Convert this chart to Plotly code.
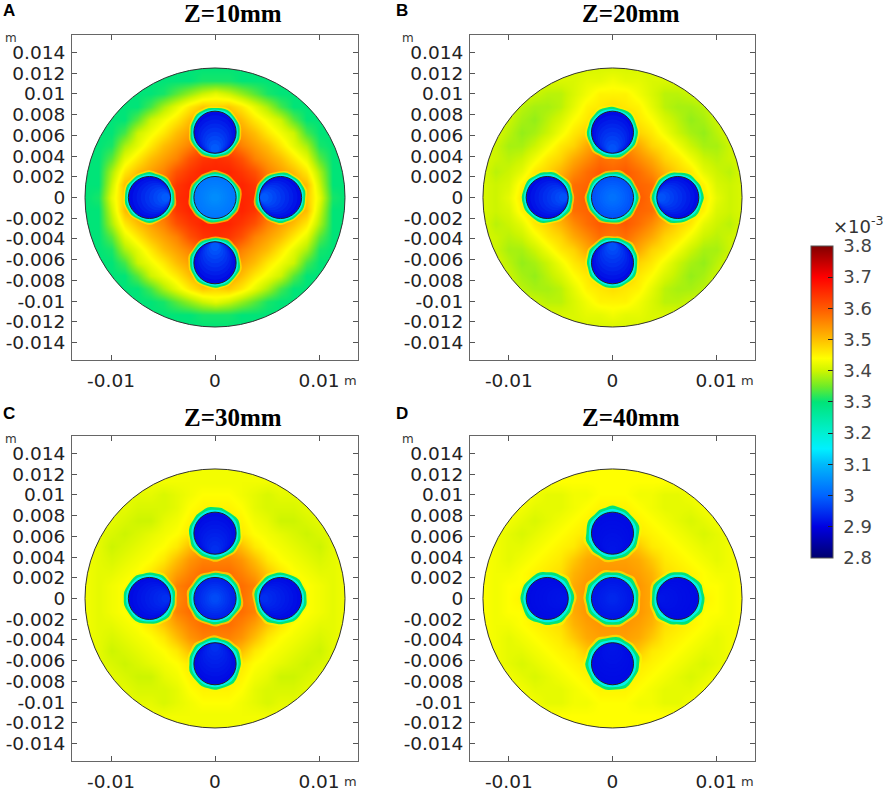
import math
import plotly.graph_objects as go

# Field values (x 1e-5), upper-right quadrant, rows from y=+12.5mm down to y=0, columns x=0..12.5mm, step 1.25mm
FIELD_A = [
 [330,330,330,330,330,330,330,330,330,330,330],
 [331,331,330,330,330,330,330,330,330,330,330],
 [342,340,337,334,331,330,330,330,330,330,330],
 [348,349,346,342,338,333,330,330,330,330,330],
 [353,353,350,346,343,340,334,330,330,330,330],
 [356,356,353,350,346,343,340,333,330,330,330],
 [361,360,356,353,350,346,342,338,331,330,330],
 [365,364,361,356,353,350,346,342,334,330,330],
 [366,366,364,361,356,353,350,346,338,330,330],
 [364,365,366,364,358,355,353,350,340,330,330],
 [363,364,366,365,361,356,354,349,342,331,330],
]
FIELD_B = [
 [341,341,341,341,341,341,341,341,341,341,341],
 [343,342,342,341,341,341,341,341,341,341,341],
 [345,345,343,341,339,339,340,341,341,341,341],
 [347,346,345,342,339,338,338,339,341,341,341],
 [349,349,346,344,341,339,337,338,340,341,341],
 [351,351,348,346,343,340,338,337,339,341,341],
 [355,355,352,348,346,343,340,338,338,340,341],
 [357,358,355,352,348,346,343,340,339,340,341],
 [359,360,358,355,351,348,346,342,340,339,341],
 [357,360,359,358,353,350,348,345,341,340,341],
 [356,358,360,358,354,351,349,346,342,340,341],
]
FIELD_C = [
 [343,343,343,343,343,343,343,343,343,343,343],
 [343,343,343,343,343,343,343,343,343,343,343],
 [344,344,343,342,341,342,342,342,343,343,343],
 [345,345,344,342,341,341,341,342,342,343,343],
 [347,346,345,343,342,340,340,341,342,343,343],
 [350,349,346,344,343,342,341,340,341,342,343],
 [353,353,350,346,344,343,342,341,340,342,343],
 [356,356,354,350,346,344,343,342,341,342,343],
 [358,358,356,353,349,346,344,343,342,342,343],
 [356,358,358,356,350,347,345,344,343,342,343],
 [355,357,358,355,351,348,346,344,343,342,343],
]
FIELD_D = [
 [344,344,344,344,344,344,344,344,344,344,344],
 [344,344,344,344,344,344,344,344,344,344,344],
 [344,344,343,343,342,342,343,344,344,344,344],
 [345,345,344,343,342,342,342,343,344,344,344],
 [346,346,345,344,343,342,341,342,343,344,344],
 [347,347,346,345,344,343,342,341,342,343,344],
 [351,351,349,346,345,344,343,342,342,343,344],
 [353,353,352,349,346,345,344,343,342,343,344],
 [354,354,353,351,347,346,345,344,343,343,344],
 [352,354,354,352,348,346,345,344,344,343,344],
 [350,352,354,352,350,347,346,345,344,343,344],
]
FIELDS = [FIELD_A, FIELD_B, FIELD_C, FIELD_D]
TITLES = ["Z=10mm", "Z=20mm", "Z=30mm", "Z=40mm"]
LETTERS = ["A", "B", "C", "D"]
YTICKS = [0.014,0.012,0.01,0.008,0.006,0.004,0.002,0,-0.002,-0.004,-0.006,-0.008,-0.01,-0.012,-0.014]
YLABELS = ["0.014","0.012","0.01","0.008","0.006","0.004","0.002","0","-0.002","-0.004","-0.006","-0.008","-0.01","-0.012","-0.014"]
XTICKS = [-0.01, 0, 0.01]
XLABELS = ["-0.01", "0", "0.01"]
CB_TICKS = [2.8,2.9,3.0,3.1,3.2,3.3,3.4,3.5,3.6,3.7,3.8]
CB_LABELS = ["2.8","2.9","3","3.1","3.2","3.3","3.4","3.5","3.6","3.7","3.8"]
# cold-channel values: outer rim, inner rim (outer channels) / same for the centre channel
COLD_OUTER = [(2.91, 3.00), (2.91, 2.99), (2.91, 2.95), (2.91, 2.92)]
COLD_CENTER = [(3.02, 3.05), (2.98, 3.02), (2.93, 2.98), (2.92, 2.94)]
RING_WIDTH = [0.00032, 0.00036, 0.0004, 0.00046]
RING_BUMPS = [0.95,1.15,0.9,1.0,1.3,1.0,0.85,1.1,1.0,1.35,0.95,1.1,0.85,1.2,1.05,0.9,1.3,1.0,1.15,0.9,1.25,1.0,0.9,1.15]

SCALE = [(2.8,(0,0,110)),(2.9,(0,0,225)),(3.0,(0,100,255)),(3.1,(0,185,250)),(3.15,(0,240,255)),
         (3.2,(0,240,210)),(3.3,(0,228,120)),(3.35,(110,235,40)),(3.4,(205,245,0)),(3.44,(255,255,0)),
         (3.5,(255,190,0)),(3.6,(255,90,0)),(3.7,(255,0,0)),(3.8,(130,0,0))]

def rgb(c):
    return f"rgb({round(c[0])},{round(c[1])},{round(c[2])})"

def color(v):
    for (a, ca), (b, cb) in zip(SCALE, SCALE[1:]):
        if v <= b:
            t = max(0, (v - a) / (b - a))
            return rgb([ca[i] + (cb[i] - ca[i]) * t for i in range(3)])
    return rgb(SCALE[-1][1])

W, H = 886, 792
BOXES = [(72, 358, 35, 362), (470, 755, 35, 362), (72, 358, 438, 765), (470, 755, 438, 765)]
X_RANGE = [-0.01375, 0.01375]
Y_RANGE = [-0.0157, 0.0157]
R_DISK = 0.0125
R_COLD = 0.00203
C_OFF = 0.0063
STEP = 0.00125

fig = go.Figure()
shapes, annotations = [], []
coords = [STEP * i for i in range(-10, 11)]

def mirror(q):
    rows_top = [list(reversed(r[1:])) + r for r in q]
    rows = rows_top + rows_top[-2::-1]
    return [[v / 100 for v in r] for r in rows[::-1]]

def circle(xr, yr, cx, cy, r, fill=None, line=None, width=0, opacity=1):
    shapes.append(dict(type="circle", xref=xr, yref=yr, x0=cx - r, x1=cx + r, y0=cy - r, y1=cy + r,
                       fillcolor=fill or "rgba(0,0,0,0)", opacity=opacity,
                       line=dict(color=line or "rgba(0,0,0,0)", width=width), layer="above"))

def ring(xr, yr, cx, cy, base, amp, rot, fill, opacity=1):
    n = len(RING_BUMPS)
    pts = []
    for k in range(n):
        a = 2 * math.pi * k / n
        r = base + amp * RING_BUMPS[(k + rot) % n]
        pts.append((cx + r * math.cos(a), cy + r * math.sin(a)))
    mid = lambda p, q: ((p[0] + q[0]) / 2, (p[1] + q[1]) / 2)
    s = mid(pts[-1], pts[0])
    path = f"M{s[0]:.6f},{s[1]:.6f}"
    for k in range(n):
        m = mid(pts[k], pts[(k + 1) % n])
        path += f" Q{pts[k][0]:.6f},{pts[k][1]:.6f} {m[0]:.6f},{m[1]:.6f}"
    shapes.append(dict(type="path", xref=xr, yref=yr, path=path + " Z", fillcolor=fill,
                       opacity=opacity, line=dict(width=0), layer="above"))

def cold(xr, yr, cx, cy, vals, w, rot):
    ring(xr, yr, cx, cy, R_COLD, w * 1.6, rot, color(3.43), 0.6)
    ring(xr, yr, cx, cy, R_COLD, w * 1.15, rot, color(3.3))
    ring(xr, yr, cx, cy, R_COLD, w * 0.6, rot, color(3.17))
    n = 9
    d = math.hypot(cx, cy)
    ux, uy = (-cx / d, -cy / d) if d else (0, 0)
    for k in range(n):
        t = k / n
        r = R_COLD * (1 - 0.9 * t)
        sh = (R_COLD - r) * 0.95
        circle(xr, yr, cx + ux * sh, cy + uy * sh, r, fill=color(vals[0] + (vals[1] - vals[0]) * t))
    circle(xr, yr, cx, cy, R_COLD, line="#222", width=1)

for i, (box, field) in enumerate(zip(BOXES, FIELDS)):
    x0, x1, ytop, ybot = box
    suf = "" if i == 0 else str(i + 1)
    xname, yname = "xaxis" + suf, "yaxis" + suf
    xr, yr = "x" + suf, "y" + suf
    fig.add_trace(go.Heatmap(x=coords, y=coords, z=mirror(field), coloraxis="coloraxis",
                             zsmooth="best", xaxis=xr, yaxis=yr, hoverinfo="skip"))
    common = dict(showgrid=False, zeroline=False, showline=True, linecolor="#666", linewidth=1,
                  mirror="allticks", ticks="inside", ticklen=5, tickcolor="#555", tickwidth=1,
                  tickfont=dict(family="DejaVu Sans", size=18.5, color="#222"))
    fig.layout[xname] = dict(domain=[x0 / W, x1 / W], range=X_RANGE, tickmode="array", tickvals=XTICKS,
                             ticktext=XLABELS, anchor=yr, ticklabelstandoff=4, **common)
    fig.layout[yname] = dict(domain=[1 - ybot / H, 1 - ytop / H], range=Y_RANGE, tickmode="array", tickvals=YTICKS,
                             ticktext=YLABELS, anchor=xr, ticklabelstandoff=2, **common)
    # white mask outside disk
    e = 0.01325
    pts = [(R_DISK * math.cos(a * math.pi / 90), R_DISK * math.sin(a * math.pi / 90)) for a in range(180)]
    path = f"M{-e},{-e} L{e},{-e} L{e},{e} L{-e},{e} Z M" + " L".join(f"{a:.6f},{b:.6f}" for a, b in pts) + " Z"
    shapes.append(dict(type="path", xref=xr, yref=yr, path=path, fillcolor="white", fillrule="evenodd",
                       line=dict(width=0), layer="above"))
    circle(xr, yr, 0, 0, R_DISK, line="#333", width=1)
    for j, (cx, cy) in enumerate([(0, C_OFF), (0, -C_OFF), (-C_OFF, 0), (C_OFF, 0)]):
        cold(xr, yr, cx, cy, COLD_OUTER[i], RING_WIDTH[i], j * 5 + i)
    cold(xr, yr, 0, 0, COLD_CENTER[i], RING_WIDTH[i], 3 + i)

    cx_px = (x0 + x1) / 2
    def txt(px, py, text, family, size, col="#111", bold=False):
        annotations.append(dict(x=px / W, y=1 - py / H, xref="paper", yref="paper", text=f"<b>{text}</b>" if bold else text,
                                showarrow=False, xanchor="center", yanchor="middle",
                                font=dict(family=family, size=size, color=col)))
    txt(cx_px + 18, ytop - (21 if i < 2 else 18), TITLES[i], "Liberation Serif", 25, "#000", True)
    txt(x0 - 63 if i % 2 == 0 else x0 - 68, ytop - (24 if i < 2 else 22), LETTERS[i], "Liberation Sans", 17, "#000", True)
    txt(x0 - 61 if i % 2 == 0 else x0 - 62, ytop + 3, "m", "DejaVu Sans", 12, "#333")
    txt(x1 - 8, ybot + 20, "m", "DejaVu Sans", 13, "#333")

annotations.append(dict(x=858 / W, y=1 - 226 / H, xref="paper", yref="paper", text="×10<sup>-3</sup>",
                        showarrow=False, xanchor="center", yanchor="middle",
                        font=dict(family="DejaVu Sans", size=18, color="#333")))

lo, hi = SCALE[0][0], SCALE[-1][0]
fig.update_layout(
    width=W, height=H, margin=dict(l=0, r=0, t=0, b=0), paper_bgcolor="white", plot_bgcolor="white",
    shapes=shapes, annotations=annotations, showlegend=False,
    coloraxis=dict(cmin=lo, cmax=hi, colorscale=[[(v - lo) / (hi - lo), rgb(c)] for v, c in SCALE],
                   colorbar=dict(x=810.5 / W, xanchor="left", xpad=0, ypad=0, y=1 - 404 / H, yanchor="middle",
                                 len=313.5 / H, lenmode="fraction", thickness=22, thicknessmode="pixels",
                                 tickmode="array", tickvals=CB_TICKS, ticktext=["\u00a0" + s for s in CB_LABELS],
                                 ticks="inside", ticklen=5, tickcolor="#222", outlinecolor="#555", outlinewidth=1,
                                 tickfont=dict(family="DejaVu Sans", size=18, color="#444"))),
)
fig.write_html("out.html", post_script="document.body.style.margin='0';", config=dict(displayModeBar=False))
